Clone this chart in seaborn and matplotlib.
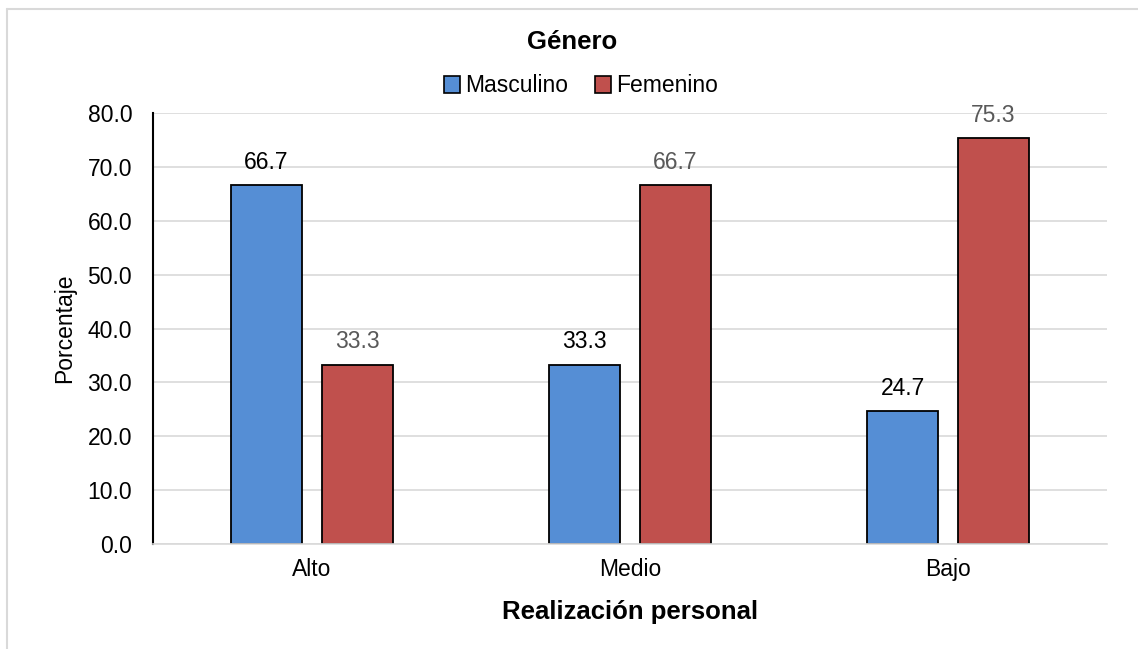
import pandas as pd
import numpy as np
import matplotlib
matplotlib.use('Agg')
import matplotlib.pyplot as plt
import seaborn as sns
from matplotlib.patches import Patch
from matplotlib.lines import Line2D

categorias = ['Alto', 'Medio', 'Bajo']
masculino = [66.7, 33.3, 24.7]
femenino = [33.3, 66.7, 75.3]
generos = ['Masculino', 'Femenino']
colores = ['#558ED5', '#C0504D']

df = pd.DataFrame({
    'nivel': categorias * 2,
    'genero': ['Masculino'] * 3 + ['Femenino'] * 3,
    'valor': masculino + femenino,
})

sns.set_style('white')
plt.rcParams['font.family'] = ['Liberation Sans', 'DejaVu Sans']
plt.rcParams['text.color'] = 'black'
plt.rcParams['axes.labelcolor'] = 'black'
plt.rcParams['xtick.color'] = 'black'
plt.rcParams['ytick.color'] = 'black'

fig = plt.figure(figsize=(11.38, 6.49), dpi=100)
ax = fig.add_axes([153 / 1138, 105 / 649, 954 / 1138, 431 / 649])

sns.barplot(data=df, x='nivel', y='valor', hue='genero', order=categorias,
            hue_order=generos, palette=colores, width=0.572, gap=0.22,
            edgecolor='black', linewidth=1.3, saturation=1, legend=False, ax=ax)

ax.set_xlim(-0.5, 2.5)
ax.set_ylim(0, 80)
ax.set_yticks(np.arange(0, 81, 10))
ax.set_yticklabels(['%.1f' % v for v in np.arange(0, 81, 10)])
ax.yaxis.grid(True, color='#D9D9D9', linewidth=1.2)
ax.set_axisbelow(True)
for s in ['top', 'right']:
    ax.spines[s].set_visible(False)
ax.spines['bottom'].set_color('#D9D9D9')
ax.spines['bottom'].set_linewidth(1.2)
ax.spines['left'].set_color('black')
ax.spines['left'].set_linewidth(1.5)
ax.tick_params(axis='x', length=0, pad=10, labelsize=16.5)
ax.tick_params(axis='y', length=0, pad=15, labelsize=16.5)

ax.set_xlabel('Realización personal', fontsize=18.5, fontweight='bold', labelpad=14)
ax.set_ylabel('Porcentaje', fontsize=16.5, labelpad=8)

for cont, col in zip(ax.containers, ['black', '#595959']):
    ax.bar_label(cont, fmt='%.1f', padding=8, fontsize=16.5, color=col)

fig.text(0.503, 1 - 42 / 649, 'Género', ha='center', va='center',
         fontsize=18.5, fontweight='bold')
handles = [Patch(facecolor=c, edgecolor='black', linewidth=1.2) for c in colores]
fig.legend(handles, generos, loc='center', bbox_to_anchor=(581 / 1138, 1 - 86 / 649),
           ncol=2, frameon=False, fontsize=16.5, handlelength=0.7, handleheight=0.7,
           handletextpad=0.2, columnspacing=1.2)

# marco del grafico
fig.add_artist(Line2D([7 / 1138, 1], [1 - 9 / 649, 1 - 9 / 649], color='#D9D9D9',
                      linewidth=1.5, transform=fig.transFigure))
fig.add_artist(Line2D([7 / 1138, 7 / 1138], [0, 1 - 9 / 649], color='#D9D9D9',
                      linewidth=1.5, transform=fig.transFigure))

fig.savefig('out.png', dpi=100)
